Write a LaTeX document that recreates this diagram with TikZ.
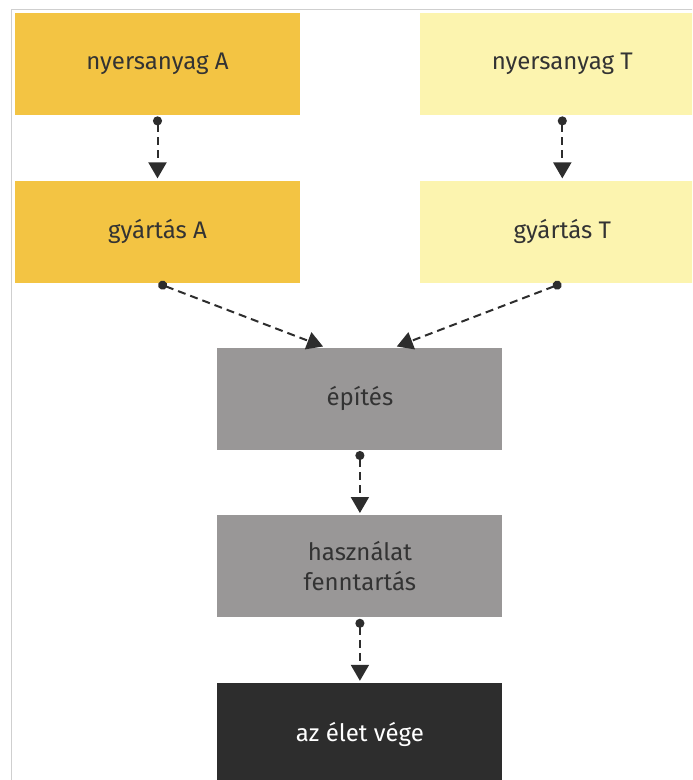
\documentclass[tikz,border=0pt]{standalone}
\usepackage{fontspec}
\setmainfont{Fira Sans}
\usepackage{xcolor}
\usetikzlibrary{positioning, arrows.meta, calc}

\definecolor{sargaA}{HTML}{F3C443}
\definecolor{sargaT}{HTML}{FCF4AF}
\definecolor{szurke}{HTML}{999797}
\definecolor{sotet}{HTML}{2D2D2D}
\definecolor{szoveg}{HTML}{333333}
\definecolor{keret}{HTML}{CFCFCF}

\begin{document}
\begin{tikzpicture}[
        node distance=32.5pt and 59.5pt,
        every node/.style={font=\fontsize{12}{15}\selectfont, align=center, text=szoveg},
        doboz/.style={rectangle, minimum width=142.5pt, minimum height=51pt, inner sep=0pt},
        anyagA/.style={doboz, fill=sargaA},
        anyagT/.style={doboz, fill=sargaT},
        folyamat/.style={doboz, fill=szurke},
        veg/.style={doboz, fill=sotet, text=white},
        nyil/.style={{Circle[length=4.5pt]}-{Triangle[length=8pt, width=9pt]}, sotet, line width=1pt,
            dash pattern=on 4pt off 2.5pt, shorten <=0.5pt, shorten >=1pt}
    ]
%
    % Keret es meret
    \path[use as bounding box, clip] (0,0) rectangle (346pt,-390pt);
    \draw[keret, line width=0.6pt] (5.8pt,-4.8pt) rectangle (400pt,-450pt);
%
    % Szint 1 : nyersanyagok
    \node[anyagA] (nyersA) at (78.75pt,-32pt) {nyersanyag A};
    \node[anyagT, right=of nyersA] (nyersT) {nyersanyag T};
%
    % Szint 2 : gyartas
    \node[anyagA, below=of nyersA] (gyartA) {gyártás A};
    \node[anyagT, below=of nyersT] (gyartT) {gyártás T};
%
    \draw[nyil] (nyersA.south) -- (gyartA.north);
    \draw[nyil] (nyersT.south) -- (gyartT.north);
%
    % Szint 3 : epites
    \coordinate (kozep) at ($(gyartA.south)!0.5!(gyartT.south)$);
    \node[folyamat, below=32pt of kozep] (epites) {építés};
%
    \draw[nyil] (gyartA.south) -- ([xshift=-17.5pt]epites.north);
    \draw[nyil] (gyartT.south) -- ([xshift=17.5pt]epites.north);
%
    % Szint 4 : hasznalat
    \node[folyamat, below=of epites] (hasznalat) {használat\\fenntartás};
    \draw[nyil] (epites.south) -- (hasznalat.north);
%
    % Szint 5 : vege
    \node[veg, below=of hasznalat] (vege) {az élet vége};
    \draw[nyil] (hasznalat.south) -- (vege.north);
%
\end{tikzpicture}
\end{document}
